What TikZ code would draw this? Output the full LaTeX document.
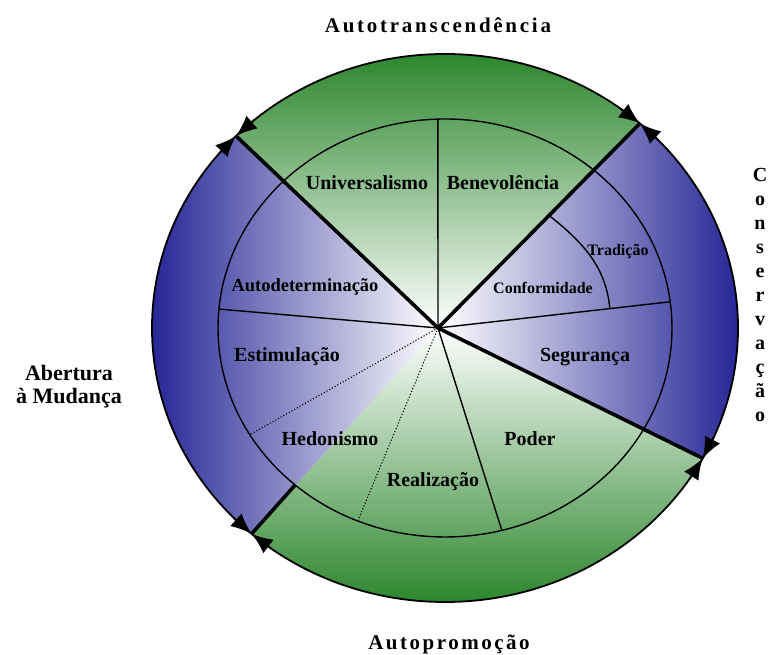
\documentclass[tikz,border=0pt]{standalone}
\usepackage{fontspec}
\setmainfont{Liberation Serif}
\usetikzlibrary{arrows.meta,calc}
\definecolor{ringblue}{RGB}{38,38,150}
\definecolor{ringgreen}{RGB}{44,134,44}

\begin{document}
\begin{tikzpicture}[x=1pt,y=1pt,
  value/.style={font=\fontsize{20}{22}\selectfont\bfseries},
  smallvalue/.style={font=\fontsize{16}{18}\selectfont\bfseries},
  pole/.style={font=\fontsize{21}{23}\selectfont\bfseries},
  divider/.style={line width=1.4pt},
  bound/.style={line width=3.6pt},
  rim/.style={line width=1.8pt},
  rimtip/.style={line width=1.8pt,-{Latex[length=21pt,width=17pt]}}]
   \useasboundingbox (0,0) rectangle (772,655);
   \coordinate (C) at (438,327);
   \coordinate (E) at (445,327);
   \coordinate (ul) at ($(E)+(135.5:293 and 274)$);
   \coordinate (ur) at ($(E)+(48.3:293 and 274)$);
   \coordinate (lr) at ($(E)+(-28.4:293 and 274)$);
   \coordinate (ll) at ($(E)+(228.7:293 and 274)$);
   \coordinate (lli) at ($(E)+(228.7:227 and 209)$);
   \coordinate (topdiv) at ($(E)+(91.8:227 and 209)$);
   \coordinate (leftdiv) at ($(E)+(174.8:227 and 209)$);
   \coordinate (rightdiv) at ($(E)+(7.2:227 and 209)$);
   \coordinate (lowdiv) at ($(E)+(-75.5:227 and 209)$);
   \coordinate (dota) at ($(E)+(-112.6:227 and 209)$);
   \coordinate (dotb) at ($(E)+(210.7:227 and 209)$);
   \begin{scope}
    \clip (E) ellipse [x radius=293, y radius=274];
    \begin{scope}
     \clip (C) -- ($(C)!3!(ul)$) -- ($(C)!3!(ur)$) -- cycle;
     \shade [top color=ringgreen, middle color=ringgreen!45!white, bottom color=white] (140,327) rectangle (750,602);
    \end{scope}
    \begin{scope}
     \clip (C) -- ($(C)!3!(lr)$) -- ($(C)!3!(ll)$) -- cycle;
     \shade [top color=white, middle color=ringgreen!45!white, bottom color=ringgreen] (140,52) rectangle (750,327);
    \end{scope}
    \begin{scope}
     \clip (C) -- ($(C)!3!(ll)$) -- ($(C)!3!(ul)$) -- cycle;
     \shade [left color=ringblue, middle color=ringblue!40!white, right color=white] (152,40) rectangle (438,620);
    \end{scope}
    \begin{scope}
     \clip (C) -- ($(C)!3!(ur)$) -- ($(C)!3!(lr)$) -- cycle;
     \shade [left color=white, middle color=ringblue!40!white, right color=ringblue] (438,40) rectangle (738,620);
    \end{scope}
   \end{scope}
   \draw [divider] (E) ellipse [x radius=227, y radius=209];
   \draw [divider] (C) -- (topdiv);
   \draw [divider] (C) -- (leftdiv);
   \draw [divider] (C) -- (rightdiv);
   \draw [divider] (C) -- (lowdiv);
   \draw [dotted, line width=1.1pt] (C) -- (dota);
   \draw [dotted, line width=1.1pt] (C) -- (dotb);
   \draw [divider] ($(C)!0.55!(ur)$) .. controls (580,415) and (606,390) .. ($(C)!0.74!(rightdiv)$);
   \draw [bound] (C) -- (ul);
   \draw [bound] (C) -- (ur);
   \draw [bound] (C) -- (lr);
   \draw [bound] (lli) -- (ll);
   \draw [rim] (E) ellipse [x radius=293, y radius=274];
   \foreach \t in {135.5,48.3,-28.4,228.7} {
     \draw [rimtip] ($(E)+(\t+5:293 and 274)$) -- ($(E)+(\t:293 and 274)$);
     \draw [rimtip] ($(E)+(\t-5:293 and 274)$) -- ($(E)+(\t:293 and 274)$);
   }
   \node [value] (universalismo) at (367,472) {Universalismo};
   \node [value] (benevolencia) at (503,472) {Benevolência};
   \node [smallvalue] (tradicao) at (618,403) {Tradição};
   \node [smallvalue] (conformidade) at (543,367) {Conformidade};
   \node [value, font=\fontsize{18.5}{20}\selectfont\bfseries] (autodeterminacao) at (305,368) {Autodeterminação};
   \node [value] (estimulacao) at (287,298) {Estimulação};
   \node [value] (seguranca) at (585,298) {Segurança};
   \node [value] (hedonismo) at (330,216) {Hedonismo};
   \node [value] (poder) at (530,216) {Poder};
   \node [value] (realizacao) at (433,173) {Realização};
   \node [pole] (autotranscendencia) at (438,630) {\addfontfeature{LetterSpace=13}Autotranscendência};
   \node [pole] (autopromocao) at (449,11) {\addfontfeature{LetterSpace=12}Autopromoção};
   \node [pole, align=center, font=\fontsize{22}{23}\selectfont\bfseries] (abertura) at (69,268) {Abertura\\à Mudança};
   \node [pole, align=center, font=\fontsize{20}{24}\selectfont\bfseries, anchor=north] (conservacao) at (760,490) {C\\o\\n\\s\\e\\r\\v\\a\\ç\\ã\\o};
\end{tikzpicture}
\end{document}
